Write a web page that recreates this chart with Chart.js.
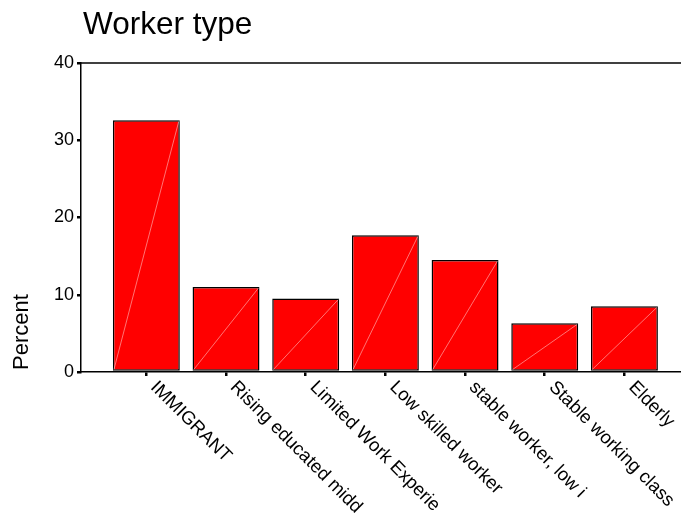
<!DOCTYPE html>
<html>
<head>
<meta charset="utf-8">
<script src="https://cdn.jsdelivr.net/npm/chart.js@4"></script>
<style>
  body { margin: 0; background: #fff; }
</style>
</head>
<body>
<canvas id="workerChart" width="681" height="516"></canvas>
<script>
const categories = [
  "IMMIGRANT",
  "Rising educated midd",
  "Limited Work Experie",
  "Low skilled worker",
  "stable worker, low i",
  "Stable working class",
  "Elderly"
];
const percents = [32.6, 11.0, 9.5, 17.7, 14.5, 6.3, 8.5];
const yTicks = [0, 10, 20, 30, 40];

const FONT = "'Liberation Sans', Arial, sans-serif";

// top frame line, light diagonal on each bar, slanted category names, titles
const decorations = {
  id: "decorations",
  afterDatasetsDraw(chart) {
    const ctx = chart.ctx;
    const area = chart.chartArea;
    const meta = chart.getDatasetMeta(0);

    ctx.save();
    ctx.strokeStyle = "rgba(255,255,255,0.45)";
    ctx.lineWidth = 1;
    meta.data.forEach((bar) => {
      const half = bar.width / 2 - 1;
      ctx.beginPath();
      ctx.moveTo(bar.x - half, bar.base - 1);
      ctx.lineTo(bar.x + half, bar.y + 1);
      ctx.stroke();
    });

    ctx.strokeStyle = "#000";
    ctx.lineWidth = 1.5;
    ctx.beginPath();
    ctx.moveTo(area.left, area.top);
    ctx.lineTo(area.right, area.top);
    ctx.stroke();
    ctx.restore();
  },
  afterDraw(chart) {
    const ctx = chart.ctx;
    const area = chart.chartArea;
    const xScale = chart.scales.x;

    ctx.save();
    ctx.fillStyle = "#000";

    ctx.font = "31.5px " + FONT;
    ctx.textAlign = "left";
    ctx.textBaseline = "alphabetic";
    ctx.fillText("Worker type", 83, 34);

    // names run down to the right from each tick
    ctx.font = "18.5px " + FONT;
    categories.forEach((name, i) => {
      const x = xScale.getPixelForValue(i);
      ctx.save();
      ctx.translate(x + 3.5, area.bottom + 16);
      ctx.rotate(Math.PI / 4);
      ctx.fillText(name, 0, 0);
      ctx.restore();
    });

    ctx.font = "22px " + FONT;
    ctx.textAlign = "center";
    ctx.textBaseline = "middle";
    ctx.translate(22, 332);
    ctx.rotate(-Math.PI / 2);
    ctx.fillText("Percent", 0, 0);
    ctx.restore();
  }
};

new Chart(document.getElementById("workerChart"), {
  type: "bar",
  data: {
    datasets: [{
      data: percents.map((v, i) => ({ x: i, y: v })),
      backgroundColor: "#ff0000",
      borderColor: "#000",
      borderWidth: 1.5,
      borderSkipped: false,
      categoryPercentage: 1,
      barPercentage: 0.84
    }]
  },
  options: {
    responsive: false,
    animation: false,
    layout: { padding: { top: 63, right: 0, bottom: 0, left: 0 } },
    plugins: {
      legend: { display: false },
      title: { display: false },
      tooltip: { enabled: false }
    },
    scales: {
      x: {
        type: "linear",
        position: "bottom",
        offset: false,
        min: -0.82,
        max: 6.71,
        afterBuildTicks: (scale) => {
          scale.ticks = categories.map((_, i) => ({ value: i }));
        },
        afterFit: (scale) => { scale.height = 144; },
        ticks: { display: false },
        grid: { offset: false, drawOnChartArea: false, tickLength: 4, color: "#000", lineWidth: 2.5 },
        border: { color: "#000", width: 1.5 }
      },
      y: {
        min: 0,
        max: 40,
        afterBuildTicks: (scale) => {
          scale.ticks = yTicks.map((v) => ({ value: v }));
        },
        afterFit: (scale) => { scale.width = 81; },
        ticks: {
          color: "#000",
          padding: 3,
          font: { family: FONT, size: 18 }
        },
        grid: { drawOnChartArea: false, tickLength: 4, color: "#000", lineWidth: 2.5 },
        border: { color: "#000", width: 1.5 }
      }
    }
  },
  plugins: [decorations]
});
</script>
</body>
</html>
